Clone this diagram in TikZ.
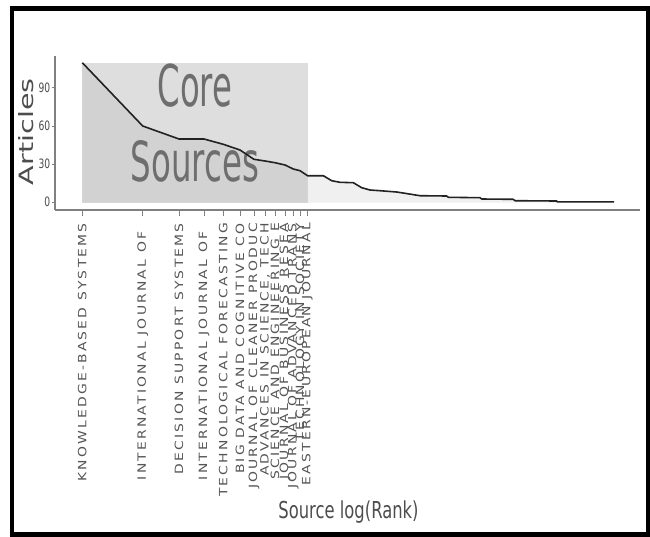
\documentclass[tikz,border=0pt]{standalone}
\usepackage{fontspec}
\setmainfont{DejaVu Sans}
\newfontfamily\lblfont[LetterSpace=16]{DejaVu Sans}
\usepackage{graphicx}
\definecolor{txtgray}{HTML}{4D4D4D}
\definecolor{lblgray}{HTML}{555555}
\definecolor{coregray}{HTML}{6E6E6E}
\definecolor{areafill}{HTML}{F0F0F0}
\definecolor{boxfill}{HTML}{DEDEDE}
\definecolor{corefill}{HTML}{D2D2D2}
\definecolor{axisgray}{HTML}{808080}
\definecolor{curvecol}{HTML}{222222}
\begin{document}
\begin{tikzpicture}[x=1pt,y=-1pt,
  ticklab/.style={font=\fontsize{12.9}{14}\selectfont, text=txtgray, inner sep=0pt, anchor=east},
  srclab/.style={font=\lblfont\fontsize{11.4}{12}\selectfont, text=lblgray, inner sep=0pt, anchor=east, rotate=90},
  coretxt/.style={text=coregray, inner sep=0pt},
  axtitle/.style={text=txtgray, inner sep=0pt},
  xtick/.style={draw=axisgray, line width=0.8pt},
  ytick/.style={draw=axisgray, line width=0.8pt},
  axisline/.style={draw=axisgray, line width=1.2pt},
  curve/.style={draw=curvecol, line width=1.6pt, line join=round}]
\useasboundingbox (0,0) rectangle (650,536);
% area under the whole curve
\fill[areafill] (82.3,202.5) -- (82.3,62.7) -- (142.7,126) -- (179,139) -- (204,139) -- (223.3,144.3) -- (240,150) -- (254,159.3) -- (265,161) -- (275,162.7) -- (285,165) -- (293.3,169) -- (300,170.7) -- (307.5,175.7)
  -- (323.3,175.7) -- (331.7,180.7) -- (340,182.3) -- (353.3,182.7) -- (361.7,187.7) -- (370,190) -- (380,190.7) -- (396.7,192) -- (405,193.3) -- (420,195.7) -- (446.7,196) -- (448.3,197.3) -- (480,197.7) -- (481.7,199) -- (513.3,199.3) -- (515,200.7) -- (556.7,201) -- (557.3,201.8) -- (614,201.8) -- (614,202.5) -- cycle;
% core sources box
\fill[boxfill] (82.3,62.7) rectangle (307.5,202.5);
\fill[corefill] (82.3,202.5) -- (82.3,62.7) -- (142.7,126) -- (179,139) -- (204,139) -- (223.3,144.3) -- (240,150) -- (254,159.3) -- (265,161) -- (275,162.7) -- (285,165) -- (293.3,169) -- (300,170.7) -- (307.5,175.7) -- (307.5,202.5) -- cycle;
\node[coretxt] (core) at (195,85.3) {\resizebox{74.7pt}{42.7pt}{Core}};
\node[coretxt] (sources) at (194.8,161.2) {\resizebox{128.3pt}{41pt}{Sources}};
% curve
\draw[curve] (82.3,62.7) -- (142.7,126) -- (179,139) -- (204,139) -- (223.3,144.3) -- (240,150) -- (254,159.3) -- (265,161) -- (275,162.7) -- (285,165) -- (293.3,169) -- (300,170.7) -- (307.5,175.7)
  -- (323.3,175.7) -- (331.7,180.7) -- (340,182.3) -- (353.3,182.7) -- (361.7,187.7) -- (370,190) -- (380,190.7) -- (396.7,192) -- (405,193.3) -- (420,195.7) -- (446.7,196) -- (448.3,197.3) -- (480,197.7) -- (481.7,199) -- (513.3,199.3) -- (515,200.7) -- (556.7,201) -- (557.3,201.8) -- (614,201.8);
% axes
\draw[axisline] (55,56) -- (55,210);
\draw[axisline] (55,210) -- (640,210);
\foreach \v/\y in {0/202,30/164,60/126,90/87.7}{
  \draw[ytick] (52,\y) -- (55,\y);
  \node[ticklab] (tick\v) at (50.5,\y) {\scalebox{0.71}[1]{\v}};
}
\foreach \x/\yt/\t [count=\i] in {82.3/223/KNOWLEDGE-BASED SYSTEMS, 142.7/231.5/INTERNATIONAL JOURNAL OF, 179/223/DECISION SUPPORT SYSTEMS, 204/231.5/INTERNATIONAL JOURNAL OF, 223.3/223/TECHNOLOGICAL FORECASTING, 240/223/BIG DATA AND COGNITIVE CO, 254/223/JOURNAL OF CLEANER PRODUC, 265/223/{ADVANCES IN SCIENCE, TECH}, 275/223/SCIENCE AND ENGINEERING E, 285/223/JOURNAL OF BUSINESS RESEA, 293.3/223/JOURNAL OF ADVANCED TRANS, 300/223/TECHNOLOGY IN SOCIETY, 307.3/223/EASTERN-EUROPEAN JOURNAL}{
  \draw[xtick] (\x,210.7) -- (\x,215.5);
  \node[srclab] (lab\i) at (\x,\yt) {\scalebox{1.22}[1]{\t}};
}
% axis titles
\node[axtitle, rotate=90] (ytitle) at (25.8,131.7) {\resizebox{106.7pt}{15pt}{Articles}};
\node[axtitle, anchor=base, font=\fontsize{23.3}{28}\selectfont] (xtitle) at (348.5,518) {\scalebox{0.703}[1]{Source log(Rank)}};
% frame
\draw[line width=4.5pt] (12,8.3) rectangle (648,534.3);
\end{tikzpicture}
\end{document}
